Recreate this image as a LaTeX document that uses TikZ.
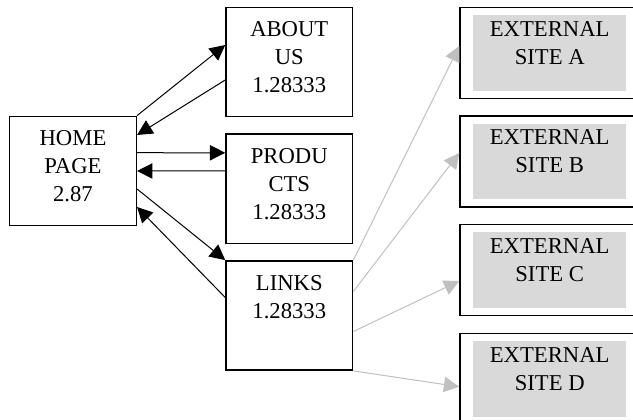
\documentclass[tikz,border=0pt]{standalone}
\usepackage{fontspec}
\setmainfont{Liberation Serif}
\usetikzlibrary{arrows.meta}

\definecolor{sitegray}{RGB}{217,217,217}
\definecolor{linkgray}{RGB}{192,192,192}

\tikzset{every picture/.style={line width=0.75pt}}
\tikzset{
	pagebox/.style={draw, line width=1.1pt, minimum width=95pt, minimum height=82pt, inner sep=0pt},
	sitebox/.style={draw, line width=1.1pt, fill=white, minimum width=134.5pt, minimum height=68.5pt, inner sep=0pt},
	sitefill/.style={fill=sitegray, minimum width=115pt, minimum height=56.8pt, inner sep=0pt},
	pagetext/.style={anchor=north, inner sep=0pt, align=center, font=\fontsize{17pt}{21pt}\selectfont},
	navarrow/.style={-{Triangle[length=11.5pt,width=11.5pt]}},
	extarrow/.style={navarrow, draw=linkgray}}

\begin{document}
\begin{tikzpicture}[x=0.75pt,y=0.75pt,yscale=-1,xscale=1]
	\useasboundingbox (0,0) rectangle (633,420);

	%Shape: Rectangle [home]
	\node[pagebox] (home) at (73,171) {};
	%Shape: Rectangle [about]
	\node[pagebox] (about) at (289.3,62) {};
	%Shape: Rectangle [products]
	\node[pagebox] (products) at (289.3,188.8) {};
	%Shape: Rectangle [links]
	\node[pagebox] (links) at (289.3,315.5) {};

	%Shape: Rectangle [site A]
	\node[sitebox] (siteA) at (549.7,53) {};
	\node[sitefill] (siteAfill) at (siteA.center) {};
	%Shape: Rectangle [site B]
	\node[sitebox] (siteB) at (549.7,161.5) {};
	\node[sitefill] (siteBfill) at (siteB.center) {};
	%Shape: Rectangle [site C]
	\node[sitebox] (siteC) at (549.7,270) {};
	\node[sitefill] (siteCfill) at (siteC.center) {};
	%Shape: Rectangle [site D]
	\node[sitebox] (siteD) at (549.7,379) {};
	\node[sitefill] (siteDfill) at (siteD.center) {};

	% Text Node
	\node[pagetext] (hometext) at ([yshift=10.8pt]home.north) {HOME\\PAGE\\2.87};
	% Text Node
	\node[pagetext] (abouttext) at ([yshift=10.8pt]about.north) {ABOUT\\US\\1.28333};
	% Text Node
	\node[pagetext] (productstext) at ([yshift=10.8pt]products.north) {PRODU\\CTS\\1.28333};
	% Text Node
	\node[pagetext] (linkstext) at ([yshift=10.8pt]links.north) {LINKS\\1.28333};
	% Text Node
	\node[pagetext] (siteAtext) at ([yshift=10.8pt]siteA.north) {EXTERNAL\\SITE A};
	% Text Node
	\node[pagetext] (siteBtext) at ([yshift=10.8pt]siteB.north) {EXTERNAL\\SITE B};
	% Text Node
	\node[pagetext] (siteCtext) at ([yshift=10.8pt]siteC.north) {EXTERNAL\\SITE C};
	% Text Node
	\node[pagetext] (siteDtext) at ([yshift=10.8pt]siteD.north) {EXTERNAL\\SITE D};

	%Straight Lines [home <-> about]
	\draw[navarrow] (home.north east) -- ([yshift=-12.75pt]about.west);
	\draw[navarrow] ([yshift=13.5pt]about.west) -- ([yshift=-27pt]home.east);
	%Straight Lines [home <-> products]
	\draw[navarrow] ([yshift=-13.7pt]home.east) -- ([yshift=-27pt]products.west);
	\draw[navarrow] ([yshift=-13.5pt]products.west) -- (home.east);
	%Straight Lines [home <-> links]
	\draw[navarrow] ([yshift=13.5pt]home.east) -- (links.north west);
	\draw[navarrow] ([yshift=-13.5pt]links.west) -- ([yshift=27pt]home.east);

	%Straight Lines [links -> external sites]
	\draw[extarrow] (links.north east) -- ([yshift=-5.25pt]siteA.west);
	\draw[extarrow] ([yshift=-18pt]links.east) -- ([yshift=-6.4pt]siteB.west);
	\draw[extarrow] ([yshift=12pt]links.east) -- ([yshift=8.25pt]siteC.west);
	\draw[extarrow] (links.south east) -- ([yshift=5.8pt]siteD.west);

\end{tikzpicture}
\end{document}
